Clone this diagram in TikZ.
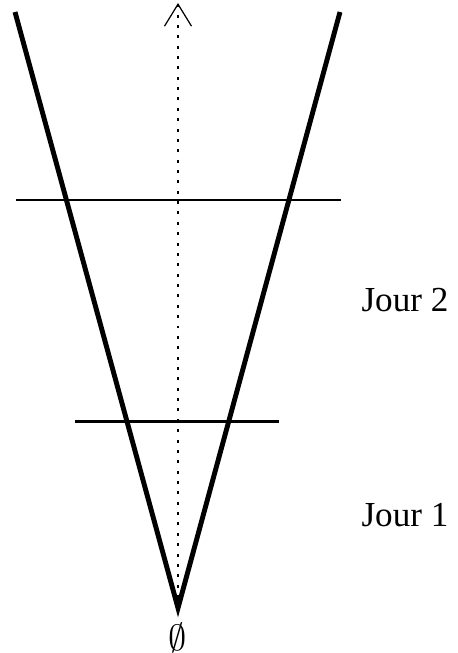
\documentclass[tikz,border=0pt]{standalone}
\usepackage{fontspec}
\setmainfont{Liberation Serif}
\usetikzlibrary{arrows.meta,positioning}

\begin{document}
\begin{tikzpicture}[x=0.02cm, y=-0.02cm,
    cone/.style={draw, line width=2.8pt, line join=miter},
    axis/.style={draw, line width=1.6pt, dash pattern=on 1.7pt off 4.2pt,
        -{Straight Barb[length=0.44cm, width=0.54cm, line width=0.7pt]}},
    level/.style={draw, line width=1.1pt},
    level1/.style={draw, line width=1.7pt},
    daylabel/.style={font=\fontsize{20}{24}\selectfont, inner sep=0pt}]

    \useasboundingbox (0,0) rectangle (457,653);

    \coordinate (apex) at (178,608);
    \coordinate (ltop) at (15,12);
    \coordinate (rtop) at (340,12);
    \coordinate (axbot) at (178,598);
    \coordinate (axtop) at (178,3);
    \coordinate (l2a) at (16,200);
    \coordinate (l2b) at (341,200);
    \coordinate (l1a) at (75,421);
    \coordinate (l1b) at (279,421);

    \path [axis] (axbot) -- (axtop);
    \path [cone] (ltop) -- (apex) -- (rtop);
    \path [level] (l2a) -- (l2b);
    \path [level1] (l1a) -- (l1b);

    \node [daylabel] (jour2) at (405,300) {Jour 2};
    \node [daylabel] (jour1) at (405,515) {Jour 1};
    \node [below=0.3cm of apex, inner sep=0pt, font=\fontsize{20.74}{24}\selectfont] (vide) {$\emptyset$};
\end{tikzpicture}
\end{document}
